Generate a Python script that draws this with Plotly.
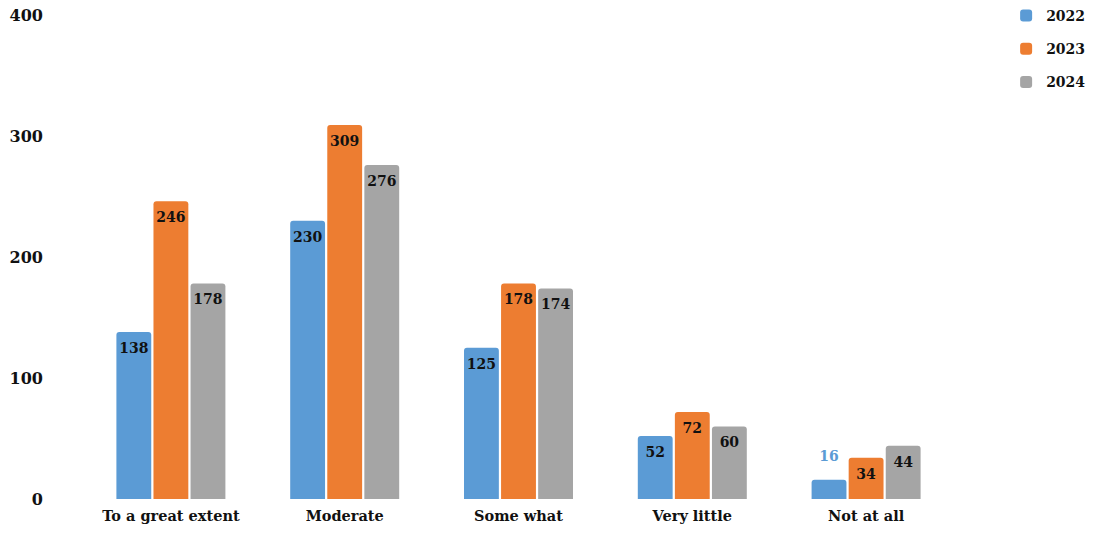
import plotly.graph_objects as go

categories = ["To a great extent", "Moderate", "Some what", "Very little", "Not at all"]
years = ["2022", "2023", "2024"]
values_2022 = [138, 230, 125, 52, 16]
values_2023 = [246, 309, 178, 72, 34]
values_2024 = [178, 276, 174, 60, 44]
colors = ["#5B9BD5", "#ED7D31", "#A5A5A5"]
y_ticks = [0, 100, 200, 300, 400]

FONT = "DejaVu Serif"

fig = go.Figure()
series = [values_2022, values_2023, values_2024]
for i, (yr, vals) in enumerate(zip(years, series)):
    fig.add_trace(go.Bar(
        x=categories, y=vals, name=yr, legendgroup=yr, offsetgroup=yr,
        marker=dict(color=colors[i], line=dict(width=0)),
        cliponaxis=False,
    ))
# value labels: positioned via the same category axis / offset groups
for i, (yr, vals) in enumerate(zip(years, series)):
    positions = ["top center" if v < 25 else "bottom center" for v in vals]
    tcolors = [colors[i] if v < 25 else "#111111" for v in vals]
    fig.add_trace(go.Scatter(
        x=categories, y=vals, mode="markers+text", offsetgroup=yr,
        text=[str(v) for v in vals], textposition=positions,
        marker=dict(size=[22 if v < 25 else 15 for v in vals], opacity=0),
        textfont=dict(family=FONT, size=14, color=tcolors, weight="bold"),
        showlegend=False, hoverinfo="skip", cliponaxis=False,
    ))

fig.update_layout(
    width=1096, height=533,
    paper_bgcolor="white", plot_bgcolor="white",
    margin=dict(l=84, r=143, t=15, b=34, autoexpand=False),
    barmode="group", bargap=0.36, bargroupgap=0.06,
    scattermode="group", scattergap=0.36,
    barcornerradius=3,
    font=dict(family=FONT, size=14, color="#111111", weight="bold"),
    showlegend=True,
    legend=dict(xref="container", yref="container", x=0.918, y=1.004,
                xanchor="left", yanchor="top",
                traceorder="grouped", tracegroupgap=12,
                font=dict(family=FONT, size=14, color="#111111", weight="bold"),
                itemwidth=30),
    xaxis=dict(showline=False, ticks="", showgrid=False, automargin=False,
               ticklabelstandoff=6,
               tickfont=dict(family=FONT, size=14.5, weight="bold")),
    yaxis=dict(range=[0, 400], tickvals=y_ticks, showgrid=False, zeroline=False,
               showline=False, ticks="", ticklabelstandoff=40, automargin=False,
               tickfont=dict(family=FONT, size=16, weight="bold")),
)

fig.write_html("out.html", config={"displayModeBar": False},
               post_script="document.body.style.margin='0';")
